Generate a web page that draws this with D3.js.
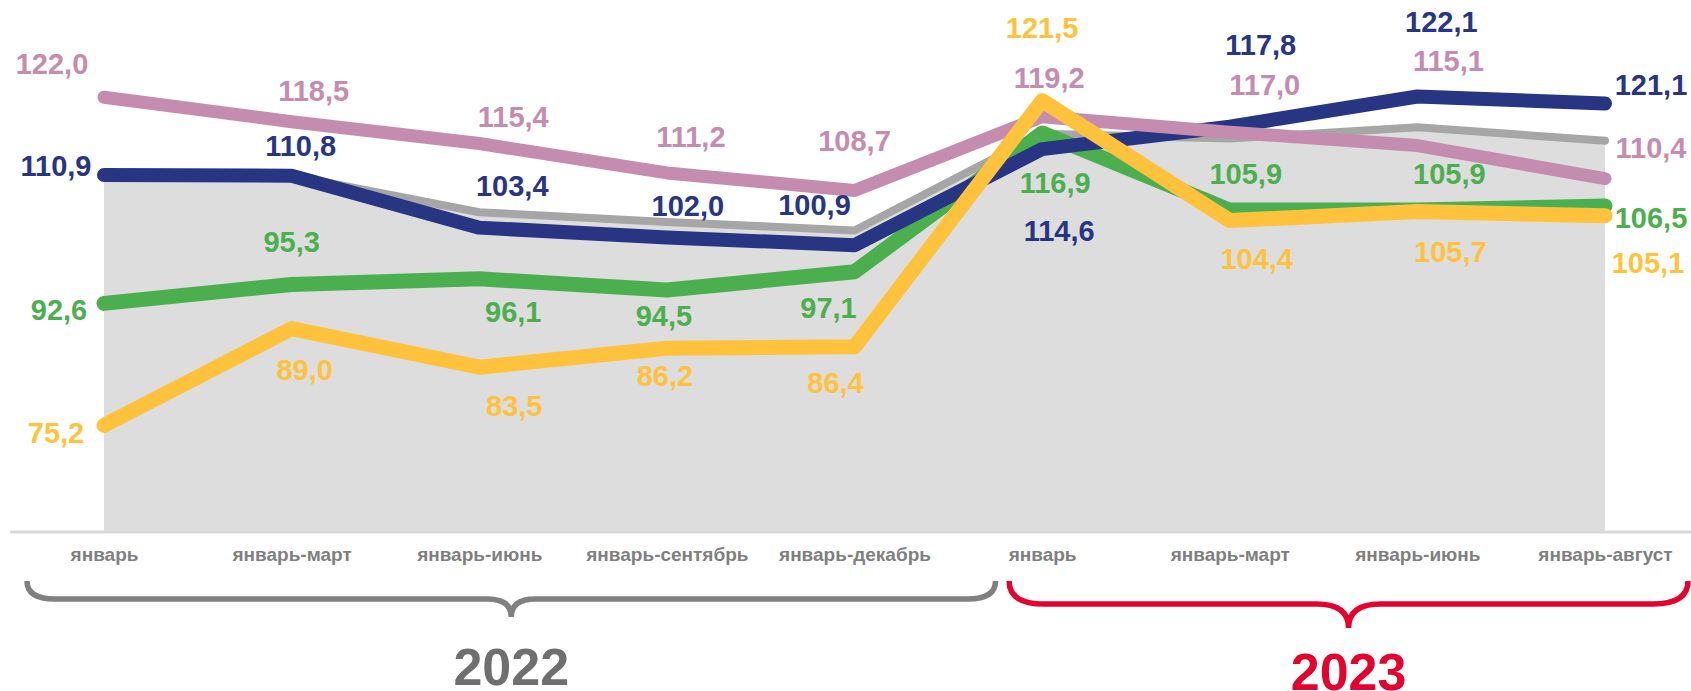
<!DOCTYPE html>
<html>
<head>
<meta charset="utf-8">
<script src="https://cdn.jsdelivr.net/npm/d3@7"></script>
<style>
    body { margin: 0; background: #fff; }
    svg text { font-family: "Liberation Sans", Arial, sans-serif; font-weight: bold; }
</style>
</head>
<body>
<div id="chart"></div>
<script>
// periods on the x axis
var categories = ["январь", "январь-март", "январь-июнь", "январь-сентябрь", "январь-декабрь",
    "январь", "январь-март", "январь-июнь", "январь-август"];

// series values, in percent
var grayValues   = [110.9, 110.8, 105.6, 104.2, 103.0, 116.8, 116.1, 117.7, 115.8];
var pinkValues   = [122.0, 118.5, 115.4, 111.2, 108.7, 119.2, 117.0, 115.1, 110.4];
var navyValues   = [110.9, 110.8, 103.4, 102.0, 100.9, 114.6, 117.8, 122.1, 121.1];
var greenValues  = [92.6, 95.3, 96.1, 94.5, 97.1, 116.9, 105.9, 105.9, 106.5];
var orangeValues = [75.2, 89.0, 83.5, 86.2, 86.4, 121.5, 104.4, 105.7, 105.1];

var years = ["2022", "2023"];
var yearFirst = [0, 5];
var yearLast = [4, 8];

// hand placed label nudges (dx, dy from the point), like in the source deck
var pinkNudge   = [[-52, -23], [22, -21], [34, -16], [24, -26], [0, -39], [7, -29], [35, -37], [31, -75], [46, -21]];
var navyNudge   = [[-48, 1], [9, -20], [33, -32], [21, -21], [-40, -30], [17, 92], [31, -72], [24, -64], [46, -8]];
var greenNudge  = [[-45, 17], [0, -32], [34, 43], [-3, 36], [-26, 46], [13, 60], [16, -26], [32, -26], [46, 22]];
var orangeNudge = [[-48, 18], [13, 51], [35, 49], [-2, 38], [-19, 46], [0, -63], [27, 48], [33, 51], [43, 57]];

var width = 1691, height = 691;

var svg = d3.select("#chart").append("svg")
    .attr("width", width)
    .attr("height", height);

var idx = d3.range(categories.length);

var x = d3.scalePoint().domain(idx).range([104, 1605]);
var y = d3.scaleLinear().domain([60, 136]).range([532, -1]);
var step = x.step();

// grey background area
var area = d3.area()
    .x(function(d, i) { return x(i); })
    .y0(y(60))
    .y1(function(d) { return y(d); });

svg.append("path")
    .datum(grayValues)
    .attr("d", area)
    .attr("fill", "#dddddd");

// axis line
svg.append("line")
    .attr("x1", x(0) - step / 2)
    .attr("x2", x(idx.length - 1) + step / 2)
    .attr("y1", y(60))
    .attr("y2", y(60))
    .attr("stroke", "#d9d9d9")
    .attr("stroke-width", 3);

var line = d3.line()
    .x(function(d, i) { return x(i); })
    .y(function(d) { return y(d); });

var series = [
    {values: grayValues,   color: "#a6a6a6", width: 8,  nudge: null},
    {values: greenValues,  color: "#4caf4f", width: 15, nudge: greenNudge},
    {values: navyValues,   color: "#283583", width: 14, nudge: navyNudge},
    {values: pinkValues,   color: "#c48daf", width: 13, nudge: pinkNudge},
    {values: orangeValues, color: "#ffc23d", width: 15, nudge: orangeNudge}
];

series.forEach(function(s) {
    svg.append("path")
        .datum(s.values)
        .attr("d", line)
        .attr("fill", "none")
        .attr("stroke", s.color)
        .attr("stroke-width", s.width)
        .attr("stroke-linejoin", "round")
        .attr("stroke-linecap", "round");
});

// value labels
series.forEach(function(s) {
    if (!s.nudge) return;
    svg.append("g").selectAll("text")
        .data(s.values)
        .enter().append("text")
        .attr("x", function(d, i) { return x(i) + s.nudge[i][0]; })
        .attr("y", function(d, i) { return y(d) + s.nudge[i][1]; })
        .attr("text-anchor", "middle")
        .style("font-size", "29px")
        .attr("fill", s.color)
        .text(function(d) { return d.toFixed(1).replace(".", ","); });
});

// category axis
var xAxis = d3.axisBottom(x)
    .tickSize(0)
    .tickFormat(function(i) { return categories[i]; });

var gx = svg.append("g")
    .attr("transform", "translate(0," + y(60) + ")")
    .call(xAxis);
gx.select(".domain").remove();
gx.selectAll("text")
    .attr("y", 29)
    .attr("dy", 0)
    .style("font-size", "19px")
    .style("font-family", "\"Liberation Sans\", Arial, sans-serif")
    .style("font-weight", "bold")
    .attr("fill", "#7f7f7f");

// year braces
function bracePath(x0, x1, yTop, yH, yTip, r, rt) {
    var xm = (x0 + x1) / 2;
    return "M" + x0 + "," + yTop +
        " Q" + x0 + "," + yH + " " + (x0 + r) + "," + yH +
        " L" + (xm - rt) + "," + yH +
        " Q" + xm + "," + yH + " " + xm + "," + yTip +
        " Q" + xm + "," + yH + " " + (xm + rt) + "," + yH +
        " L" + (x1 - r) + "," + yH +
        " Q" + x1 + "," + yH + " " + x1 + "," + yTop;
}

var braceStyle = [
    {left: -77, right: 141, yH: 599, yTip: 617, r: 28, rt: 24, color: "#808080", text: "#6f6f6f", base: 685},
    {left: -33, right: 83,  yH: 604, yTip: 628, r: 35, rt: 32, color: "#e4032e", text: "#e4032e", base: 690}
];

years.forEach(function(yr, k) {
    var b = braceStyle[k];
    var x0 = x(yearFirst[k]) + b.left;
    var x1 = x(yearLast[k]) + b.right;
    svg.append("path")
        .attr("d", bracePath(x0, x1, 581, b.yH, b.yTip, b.r, b.rt))
        .attr("fill", "none")
        .attr("stroke", b.color)
        .attr("stroke-width", 5.5)
        .attr("stroke-linecap", "butt");
    svg.append("text")
        .attr("x", (x0 + x1) / 2)
        .attr("y", b.base)
        .attr("text-anchor", "middle")
        .style("font-size", "52px")
        .attr("fill", b.text)
        .text(yr);
});
</script>
</body>
</html>
